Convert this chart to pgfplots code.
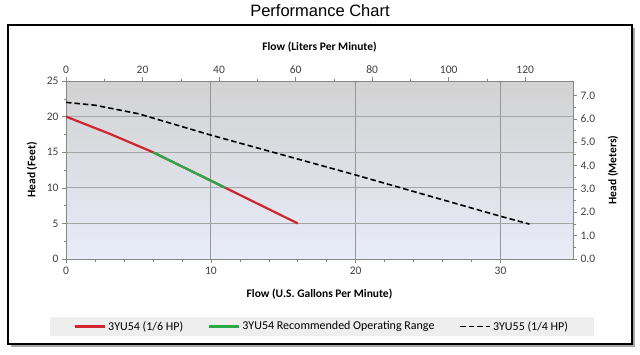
\documentclass[border=0pt]{standalone}
\usepackage{pgfplots}
\pgfplotsset{compat=1.18}
\usepackage{fontspec}
\setmainfont{Carlito}
\newfontfamily\titlefont{Liberation Sans}
\definecolor{bgtop}{RGB}{210,210,210}
\definecolor{bgbot}{RGB}{232,236,248}
\definecolor{redline}{RGB}{208,36,48}
\definecolor{greenline}{RGB}{40,170,72}
\definecolor{axgray}{RGB}{134,134,134}
\definecolor{ticktext}{RGB}{64,64,64}
\definecolor{legfill}{RGB}{238,238,238}
\definecolor{xgrid}{RGB}{150,150,150}
\definecolor{ygrid}{RGB}{165,165,165}
\pgfplotsset{
  common/.style={
    at={(66pt,-259pt)}, anchor=south west, scale only axis,
    width=507pt, height=178pt,
    tick align=outside,
    major tick length=4pt, minor tick length=2.5pt,
    axis line style={axgray, line width=0.8pt},
    every tick/.style={axgray, line width=0.6pt},
    tick label style={font=\fontsize{11.5}{13}\selectfont, text=ticktext},
    label style={font=\bfseries\fontsize{11.5}{13}\selectfont, text=black},
    /pgf/number format/assume math mode=true,
  }
}
\begin{document}
\begin{tikzpicture}[x=1pt,y=1pt]
\path[use as bounding box] (0pt,0pt) rectangle (640pt,-354pt);
\fill[black!35] (11pt,-28pt) rectangle (635pt,-347pt);
\draw[line width=2pt, fill=white] (8pt,-25pt) rectangle (632pt,-344pt);
\node[font=\titlefont\fontsize{16.5}{19}\selectfont] at (320pt,-11pt) {Performance Chart};
\begin{axis}[common,
  xmin=0, xmax=35, ymin=0, ymax=25,
  axis x line*=bottom, axis y line*=left,
  xtick={0,10,20,30}, ytick={0,5,...,25},
  minor x tick num=4, minor y tick num=1,
  xmajorgrids, ymajorgrids,
  x grid style={xgrid, line width=0.8pt},
  y grid style={ygrid, line width=0.7pt},
  axis background/.style={top color=bgtop, bottom color=bgbot},
  xlabel={Flow (U.S. Gallons Per Minute)},
  ylabel={Head (Feet)},
  xlabel style={at={(axis description cs:0.5,-0.197)}, anchor=center},
  ylabel style={at={(axis description cs:-0.067,0.5)}, anchor=center, rotate=0},
  legend columns=3,
  legend style={at={(0.505,-0.379)}, anchor=center, fill=legfill, draw=none,
    font=\fontsize{12}{13}\selectfont, inner xsep=24pt, inner ysep=2.5pt,
    /tikz/every even column/.append style={column sep=23pt}},
  legend image code/.code={\draw[#1] (0pt,0pt) -- (30pt,0pt);},
]
\addplot[redline, line width=2.2pt] coordinates {(0,20) (3,17.6) (6,15) (11,10) (16,5)};
\addlegendentry{3YU54 (1/6 HP)}
\addplot[greenline, line width=2.2pt] coordinates {(6,15) (11,10)};
\addlegendentry{3YU54 Recommended Operating Range}
\addplot[black, line width=1.6pt, dash pattern=on 5.5pt off 3pt] coordinates {(0,22) (2,21.6) (5,20.4) (8,18.6) (10,17.4) (15,14.6) (20,11.8) (25,8.9) (30,6.0) (32,4.9)};
\addlegendentry{3YU55 (1/4 HP)}
\end{axis}
\begin{axis}[common,
  xmin=0, xmax=132.4894, ymin=0, ymax=7.6201,
  axis x line*=top, axis y line*=right,
  xtick={0,20,...,120}, ytick={0,1,...,7},
  minor x tick num=1, minor y tick num=1,
  yticklabel={\pgfmathprintnumber[fixed,precision=1,fixed zerofill]{\tick}},
  xlabel={Flow (Liters Per Minute)},
  ylabel={Head (Meters)},
  xlabel style={at={(axis description cs:0.5,1.191)}, anchor=center},
  ylabel style={at={(axis description cs:1.079,0.5)}, anchor=center},
]
\end{axis}
\end{tikzpicture}
\end{document}
